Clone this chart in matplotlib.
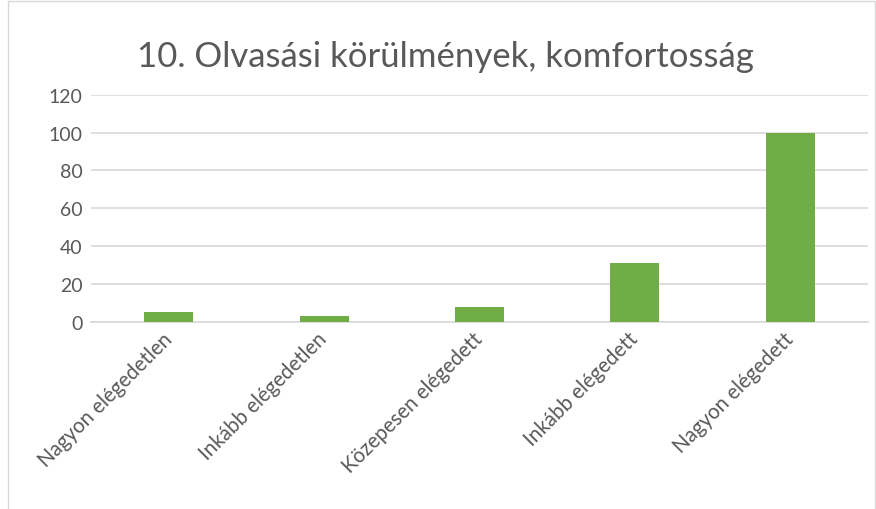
import numpy as np
import matplotlib.pyplot as plt

# Chart data
categories = ['Nagyon elégedetlen', 'Inkább elégedetlen', 'Közepesen elégedett',
              'Inkább elégedett', 'Nagyon elégedett']
values = [5, 3, 8, 31, 100]
yticks = [0, 20, 40, 60, 80, 100, 120]

plt.rcParams['font.family'] = ['Lato', 'DejaVu Sans']
text_color = '#595959'

fig = plt.figure(figsize=(8.76, 5.10), dpi=100)
ax = fig.add_axes([0.1039, 0.3673, 0.887, 0.4451])

x = np.arange(len(categories))
ax.bar(x, values, width=0.315, color='#70ad47', zorder=3)

ax.set_xlim(-0.5, len(categories) - 0.5)
ax.set_ylim(0, 120)
ax.set_yticks(yticks)
ax.set_yticklabels([str(v) for v in yticks], fontsize=14, color=text_color)
ax.set_xticks(x)
ax.set_xticklabels(categories, rotation=45, ha='right', va='center',
                   rotation_mode='anchor', fontsize=14.8, color=text_color)
ax.tick_params(axis='y', length=0, pad=6)
ax.tick_params(axis='x', length=0, pad=10)
ax.grid(axis='y', color='#d9d9d9', linewidth=1.2, zorder=0)
for s in ['top', 'right', 'left']:
    ax.spines[s].set_visible(False)
ax.spines['bottom'].set_color('#d9d9d9')
ax.spines['bottom'].set_linewidth(1.2)

fig.text(0.508, 0.888, '10. Olvasási körülmények, komfortosság', ha='center', va='center',
         fontsize=25, color=text_color)

# light border around the chart area
fig.add_artist(plt.Rectangle((0.009, -0.01), 0.99, 1.007, transform=fig.transFigure,
                             fill=False, edgecolor='#d9d9d9', linewidth=1))

plt.savefig('out.png', dpi=100)
